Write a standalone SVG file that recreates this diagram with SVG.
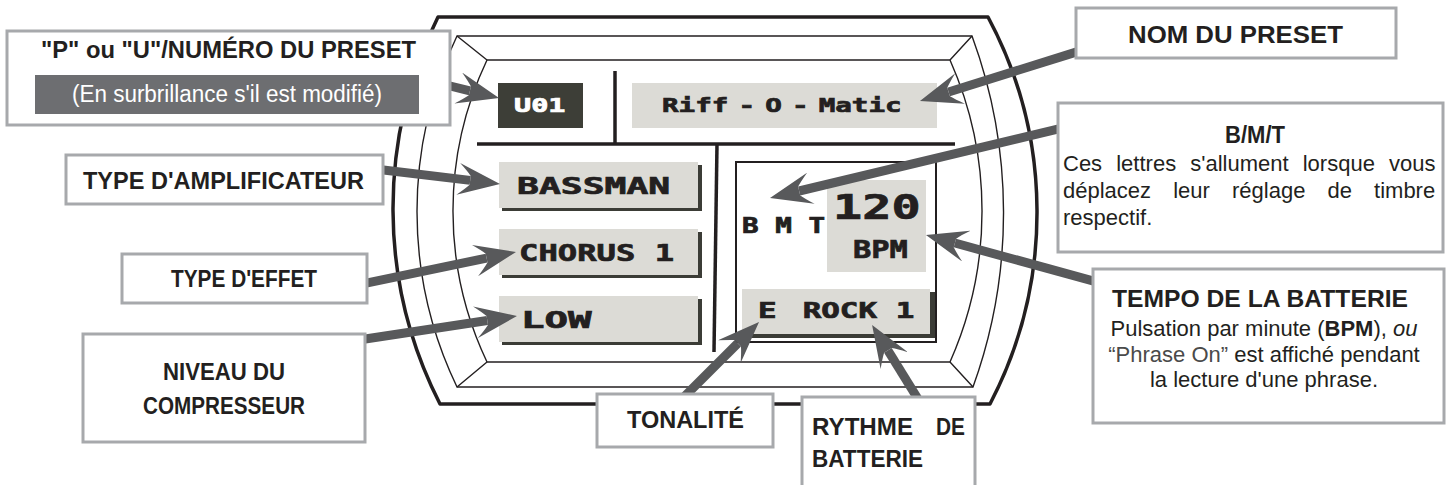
<svg xmlns="http://www.w3.org/2000/svg" width="1449" height="485" viewBox="0 0 1449 485">
<style>
.thick{fill:none;stroke:#231f20;stroke-width:3.5;stroke-linejoin:round}
.thin{fill:none;stroke:#231f20;stroke-width:1.4}
.sep{stroke:#231f20;stroke-width:3.5}
.lcdbg{fill:#dcdbd6}
.shadow{fill:#3b3c36}
.lcd{font-family:"DejaVu Sans Mono","Liberation Mono",monospace;font-weight:bold;fill:#231f20;stroke:#231f20;stroke-width:0.7}
.conn{fill:none;stroke:#58595b;stroke-width:9;marker-end:url(#ah)}
.box{fill:#fff;stroke:#a7a9ac;stroke-width:3}
.t{font-family:"Liberation Sans",Arial,sans-serif;font-weight:bold;font-size:24.5px;fill:#231f20;text-anchor:middle}
.b{font-family:"Liberation Sans",Arial,sans-serif;font-size:22px;fill:#231f20}
</style>
<defs>
<marker id="ah" markerUnits="userSpaceOnUse" viewBox="-12 -16 42 32" refX="0" refY="0" markerWidth="42" markerHeight="32" orient="auto">
<path d="M30,0 L-12,-16 Q-4,-9 0,-4.5 L0,4.5 Q-4,9 -12,16 Z" fill="#58595b"/>
</marker>
</defs>

<g id="device">
<path class="thick" d="M438,17 L988,17 A414,414 0 0 1 990,404 L440,404 A430,430 0 0 1 438,17 Z"/>
<path class="thin" d="M457,36 L972,36 A512,512 0 0 1 973,387 L457,387 A405,405 0 0 1 457,36 Z"/>
<path class="thin" d="M487,60 L950,60 A372,372 0 0 1 950,362 L487,362 A352,352 0 0 1 487,60 Z"/>
<path class="thin" d="M457,36 L487,60 M972,36 L950,60 M457,387 L487,362 M973,387 L950,362"/>
</g>

<g id="display">
<line class="sep" x1="615" y1="71" x2="615" y2="144"/>
<line class="sep" x1="477" y1="144" x2="955" y2="144"/>
<line class="sep" x1="717" y1="144" x2="714" y2="352"/>
<rect x="736" y="162" width="200" height="180" fill="none" stroke="#231f20" stroke-width="2"/>
</g>

<g id="lcd-u01">
<rect x="498" y="83" width="85" height="45" fill="#3d3e37"/>
<text class="lcd" font-size="19" style="fill:#ffffff;stroke:#ffffff" transform="translate(514,112) scale(1.5,1)">U01</text>
</g>
<g id="lcd-name">
<rect class="lcdbg" x="632" y="83" width="305" height="45"/>
<text class="lcd" font-size="19" transform="translate(662,112) scale(1.45,1)">Riff<tspan dx="7">-</tspan><tspan dx="7">O</tspan><tspan dx="7">-</tspan><tspan dx="7">Matic</tspan></text>
</g>
<g id="lcd-amp">
<rect class="shadow" x="502" y="165" width="200" height="46"/>
<rect class="lcdbg" x="499" y="162" width="199" height="46"/>
<text class="lcd" font-size="23" transform="translate(517,194) scale(1.58,1)">BASSMAN</text>
</g>
<g id="lcd-fx">
<rect class="shadow" x="502" y="232" width="200" height="46"/>
<rect class="lcdbg" x="499" y="229" width="199" height="46"/>
<text class="lcd" font-size="23" transform="translate(519,261) scale(1.4,1)">CHORUS 1</text>
</g>
<g id="lcd-comp">
<rect class="shadow" x="502" y="299" width="200" height="46"/>
<rect class="lcdbg" x="499" y="296" width="199" height="46"/>
<text class="lcd" font-size="23" transform="translate(521,328) scale(1.7,1)">LOW</text>
</g>
<g id="lcd-bmt">
<text class="lcd" font-size="20.6" transform="translate(742,233) scale(1.34,1)">B M T</text>
</g>
<g id="lcd-tempo">
<rect class="lcdbg" x="827" y="180" width="99" height="92"/>
<text class="lcd" font-size="33" transform="translate(833,219) scale(1.47,1)">120</text>
<text class="lcd" font-size="24.7" transform="translate(853,258) scale(1.23,1)">BPM</text>
</g>
<g id="lcd-rhythm">
<rect class="shadow" x="745" y="292" width="190" height="46"/>
<rect class="lcdbg" x="742" y="289" width="188" height="45"/>
<text class="lcd" font-size="20.6" transform="translate(758,318) scale(1.5,1)">E <tspan dx="5">ROCK 1</tspan></text>
</g>

<g id="connectors">
<path class="conn" d="M442,84 L469.9,90.9"/>
<path class="conn" d="M375,169 L470.2,180.4"/>
<path class="conn" d="M359,284.6 L486.6,258.1"/>
<path class="conn" d="M357,340.2 L487.3,320.5"/>
<path class="conn" d="M1084,49.6 L948.6,92"/>
<path class="conn" d="M1066,127.1 L799.2,191"/>
<path class="conn" d="M1101,283.1 L954.9,243"/>
<path class="conn" d="M681,400 L737.8,343.2"/>
<path class="conn" d="M921,403.8 L887.9,350.4"/>
</g>

<g id="callout-preset-number">
<rect class="box" x="7" y="31" width="443" height="94"/>
<text class="t" x="228.5" y="58" textLength="375" lengthAdjust="spacingAndGlyphs">"P" ou "U"/NUMÉRO DU PRESET</text>
<rect x="35" y="75" width="384" height="39" fill="#6d6e71"/>
<text class="b" x="227" y="102" style="fill:#ffffff;font-size:23px" text-anchor="middle" textLength="310" lengthAdjust="spacingAndGlyphs">(En surbrillance s'il est modifié)</text>
</g>
<g id="callout-amp">
<rect class="box" x="66" y="155" width="317" height="49"/>
<text class="t" x="223.5" y="189" textLength="281" lengthAdjust="spacingAndGlyphs">TYPE D'AMPLIFICATEUR</text>
</g>
<g id="callout-fx">
<rect class="box" x="122" y="254" width="245" height="49"/>
<text class="t" x="244" y="287" textLength="146" lengthAdjust="spacingAndGlyphs">TYPE D'EFFET</text>
</g>
<g id="callout-comp">
<rect class="box" x="83" y="334" width="282" height="108"/>
<text class="t" x="224" y="380" textLength="122" lengthAdjust="spacingAndGlyphs">NIVEAU DU</text>
<text class="t" x="224" y="414" textLength="162" lengthAdjust="spacingAndGlyphs">COMPRESSEUR</text>
</g>
<g id="callout-name">
<rect class="box" x="1076" y="8" width="320" height="50"/>
<text class="t" x="1235.5" y="43" textLength="215" lengthAdjust="spacingAndGlyphs">NOM DU PRESET</text>
</g>
<g id="callout-bmt">
<rect class="box" x="1058" y="103" width="385" height="149"/>
<text class="t" x="1255" y="143" textLength="60" lengthAdjust="spacingAndGlyphs">B/M/T</text>
<text class="b" x="1063" y="171" style="word-spacing:8px">Ces lettres s'allument lorsque vous</text>
<text class="b" x="1063" y="198" style="word-spacing:16px">déplacez leur réglage de timbre</text>
<text class="b" x="1063" y="225">respectif.</text>
</g>
<g id="callout-tempo">
<rect class="box" x="1093" y="269" width="351" height="154"/>
<text class="t" x="1260" y="307" textLength="296" lengthAdjust="spacingAndGlyphs">TEMPO DE LA BATTERIE</text>
<text class="b" x="1264" y="336" text-anchor="middle">Pulsation par minute (<tspan font-weight="bold">BPM</tspan>), <tspan font-style="italic">ou</tspan></text>
<text class="b" x="1264" y="362" text-anchor="middle"><tspan style="fill:#4a4a4a">“Phrase On”</tspan> est affiché pendant</text>
<text class="b" x="1264" y="387" text-anchor="middle">la lecture d'une phrase.</text>
</g>
<g id="callout-key">
<rect class="box" x="597" y="394" width="176" height="53"/>
<text class="t" x="685.5" y="428" textLength="117" lengthAdjust="spacingAndGlyphs">TONALITÉ</text>
</g>
<g id="callout-rhythm">
<rect class="box" x="802" y="397" width="173" height="95"/>
<text class="t" x="812" y="435" style="text-anchor:start"><tspan textLength="101" lengthAdjust="spacingAndGlyphs">RYTHME</tspan><tspan x="936" textLength="29" lengthAdjust="spacingAndGlyphs">DE</tspan></text>
<text class="t" x="812" y="467" style="text-anchor:start" textLength="111" lengthAdjust="spacingAndGlyphs">BATTERIE</text>
</g>
</svg>
